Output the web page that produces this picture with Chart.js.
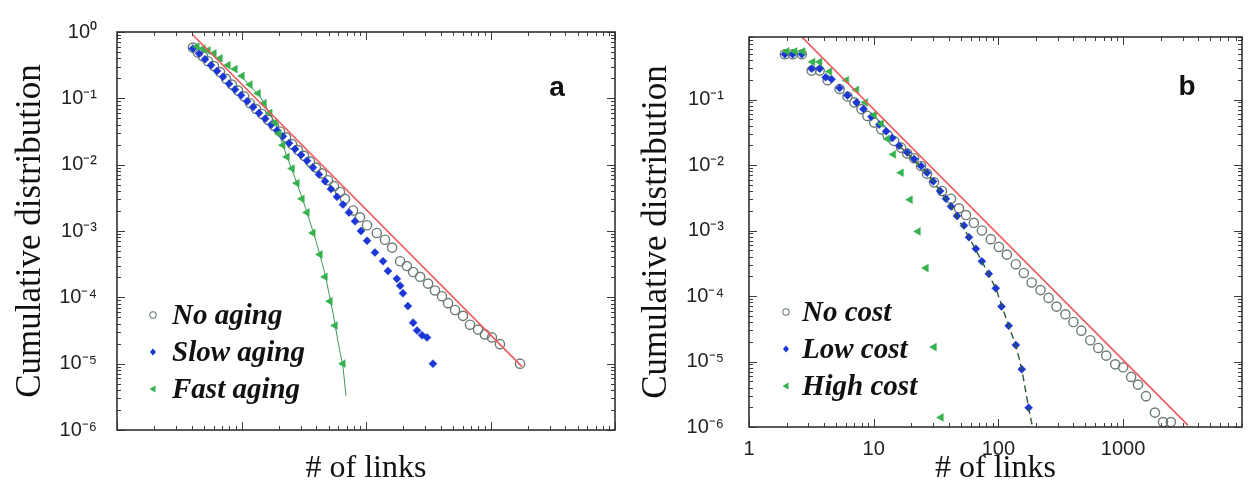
<!DOCTYPE html>
<html>
<head>
<meta charset="utf-8">
<script src="https://cdn.jsdelivr.net/npm/chart.js@4.4.1/dist/chart.umd.min.js"></script>
<style>
  html, body { margin: 0; padding: 0; background: #fff; }
  .panel { position: absolute; top: 0; width: 624px; height: 492px; }
</style>
</head>
<body>
<div class="panel" style="left:0"><canvas id="chartA" width="624" height="492"></canvas></div>
<div class="panel" style="left:624px"><canvas id="chartB" width="624" height="492"></canvas></div>
<script>
  // ---- panel a : aging ----
  const noAgingX = [4.07, 4.47, 4.91, 5.38, 6.01, 6.72, 7.51, 8.39, 9.37, 10.5, 11.7, 13.1, 14.6, 16.3, 18.2,
    20.4, 22.8, 25.5, 28.4, 31.8, 35.5, 39.6, 44.3, 49.5, 55.3, 61.8, 67.8, 78.7, 89.5, 102,
    122, 142, 162, 188, 213, 239, 272, 315, 358, 408, 456, 519, 601, 684, 794, 903, 1028, 1191, 1726];
  const noAgingY = [0.582, 0.491, 0.429, 0.362, 0.306, 0.249, 0.197, 0.161, 0.131, 0.107, 0.0844, 0.0689, 0.0582, 0.0475, 0.0387,
    0.0316, 0.0258, 0.0204, 0.0166, 0.0136, 0.0111, 0.00903, 0.00738, 0.00582, 0.00474, 0.00387, 0.00306, 0.00204, 0.00161, 0.00122,
    9.35e-4, 7.38e-4, 5.62e-4, 3.5e-4, 2.96e-4, 2.41e-4, 2.04e-4, 1.61e-4, 1.27e-4, 1.04e-4, 8.17e-5, 6.44e-5, 5.26e-5, 3.87e-5, 3.27e-5,
    2.76e-5, 2.49e-5, 1.97e-5, 1e-5];

  const slowAgingX = [4.07, 4.56, 5.09, 5.69, 6.36, 7.10, 7.94, 8.87, 9.91, 11.1, 12.4, 13.8, 15.5, 17.3, 19.3,
    21.5, 24.1, 26.9, 30.1, 33.6, 37.5, 41.9, 46.9, 52.3, 58.5, 65.3, 73.0, 81.6, 91.2, 102,
    118, 137, 150, 177, 188, 198, 217, 239, 257, 282, 309, 345];
  const slowAgingY = [0.562, 0.475, 0.388, 0.316, 0.258, 0.211, 0.166, 0.136, 0.111, 0.0903, 0.0738, 0.0602, 0.0491, 0.0401, 0.0327,
    0.0267, 0.0211, 0.0172, 0.0140, 0.0115, 0.00904, 0.00713, 0.00562, 0.00429, 0.00327, 0.00250, 0.00190, 0.00140, 0.001, 7.13e-4,
    4.75e-4, 3.5e-4, 2.5e-4, 1.9e-4, 1.5e-4, 1.15e-4, 7.38e-5, 4.15e-5, 3.16e-5, 2.67e-5, 2.49e-5, 1e-5];

  const fastAgingX = [4.39, 4.91, 5.38, 6.01, 6.72, 7.79, 8.87, 10.1, 11.7, 13.6, 15.2, 16.9, 18.6, 20.0, 21.5,
    23.2, 25.5, 27.9, 30.6, 33.6, 37.5, 42.7, 46.9, 51.4, 56.4, 65.3];
  const fastAgingY = [0.602, 0.562, 0.526, 0.475, 0.401, 0.316, 0.276, 0.218, 0.161, 0.119, 0.0844, 0.0602, 0.0429, 0.0296, 0.0197,
    0.0131, 0.00873, 0.00526, 0.00306, 0.0019, 9.35e-4, 4.44e-4, 2.04e-4, 8.73e-5, 3.75e-5, 1e-5];

  // fitted curves
  const fastFitX = [9.73, 14.1, 18.6, 23.2, 27.9, 33.6, 39.6, 46.9, 54.3, 60.7, 65.3, 69.1];
  const fastFitY = [0.225, 0.107, 0.0429, 0.0131, 0.00526, 0.0019, 7.13e-4, 2.25e-4, 5.82e-5, 1.78e-5, 9e-6, 3.27e-6];
  const powerFitAX = [4.07, 1791];
  const powerFitAY = [0.903, 9.04e-6];

  // ---- panel b : cost ----
  const noCostX = [1.94, 2.24, 2.65, 3.18, 3.69, 4.27, 5.33, 6.17, 7.01, 7.98, 8.91, 10.1, 11.5, 12.9, 14.6,
    16.6, 18.6, 21.1, 24.0, 26.8, 30.5, 35.3, 41.7, 48.3, 55.0, 63.6, 73.8, 86.9, 101, 117,
    138, 160, 185, 218, 253, 293, 345, 400, 463, 547, 633, 733, 865, 1002, 1161, 1319, 1528, 1803, 2091, 2421];
  const noCostY = [0.491, 0.491, 0.491, 0.276, 0.276, 0.197, 0.145, 0.111, 0.0903, 0.0713, 0.0562, 0.0444, 0.0350, 0.0286, 0.0233,
    0.0184, 0.0150, 0.0127, 0.00966, 0.00738, 0.00543, 0.00401, 0.00306, 0.00218, 0.00172, 0.00131, 0.001, 7.38e-4, 5.62e-4, 4.29e-4,
    3.06e-4, 2.25e-4, 1.61e-4, 1.23e-4, 9.35e-5, 6.89e-5, 5.26e-5, 4.01e-5, 2.96e-5, 2.11e-5, 1.61e-5, 1.23e-5, 9.04e-6, 8.16e-6, 5.82e-6,
    4.44e-6, 2.96e-6, 1.66e-6, 1.19e-6, 1.19e-6];

  const lowCostX = [1.94, 2.24, 2.65, 3.18, 3.69, 4.12, 4.59, 5.33, 6.17, 7.28, 8.28, 9.59, 11.1, 12.6, 14.1,
    16.0, 18.6, 21.1, 24.0, 26.8, 30.0, 34.1, 38.0, 41.7, 46.6, 53.0, 58.1, 66.0, 73.8, 83.8, 95.4, 106, 121, 138, 154, 175];
  const lowCostY = [0.491, 0.491, 0.491, 0.296, 0.296, 0.218, 0.204, 0.150, 0.115, 0.0903, 0.0713, 0.0543, 0.0415, 0.0327, 0.0258,
    0.0197, 0.0155, 0.0123, 0.00966, 0.00763, 0.00562, 0.00401, 0.00306, 0.00233, 0.00166, 0.00119, 7.89e-4, 5.26e-4, 3.38e-4, 2.18e-4,
    1.31e-4, 6.89e-5, 3.50e-5, 1.78e-5, 7.62e-6, 1.97e-6];

  const highCostX = [2.01, 2.33, 2.70, 3.24, 3.69, 4.43, 6.05, 7.28, 8.59, 10.1, 11.5, 12.9, 14.4, 16.6, 19.6, 22.7, 26.3, 30.5, 34.7];
  const highCostY = [0.543, 0.543, 0.543, 0.375, 0.375, 0.267, 0.197, 0.140, 0.0903, 0.0582, 0.0429, 0.0250, 0.0145, 0.00763, 0.00296,
    9.67e-4, 2.67e-4, 1.66e-5, 1.40e-6];

  const lowFitX = [16.0, 26.8, 41.7, 58.1, 73.8, 95.4, 121, 138, 154, 175, 186];
  const lowFitY = [0.0197, 0.00763, 0.00233, 7.89e-4, 3.38e-4, 1.31e-4, 3.5e-5, 1.78e-5, 7.62e-6, 1.97e-6, 1.1e-6];
  const powerFitBX = [2.65, 3311];
  const powerFitBY = [0.903, 1.07e-6];

  // axis ticks
  const yTickExpA = [0, -1, -2, -3, -4, -5, -6];
  const yTickExpB = [-1, -2, -3, -4, -5, -6];
  const xTickLabelsB = [1, 10, 100, 1000];

  const SUP = { '-': '\u207B', '0': '\u2070', '1': '\u00B9', '2': '\u00B2', '3': '\u00B3', '4': '\u2074', '5': '\u2075', '6': '\u2076' };
  function powerLabel(v) {
    const e = Math.round(Math.log10(v));
    return '10' + String(e).split('').map(c => SUP[c]).join('');
  }

  function pts(xs, ys) {
    return xs.map((x, i) => ({ x: x, y: ys[i] }));
  }

  const RED = '#f0585a';
  const GRAY = '#6b7b73';
  const BLUE = '#1b36d4';
  const GREEN = '#35b14e';

  function markerSet(label, xs, ys, kind, order) {
    const base = { label: label, data: pts(xs, ys), showLine: false, order: order };
    if (kind === 'circle') {
      return Object.assign(base, { pointStyle: 'circle', pointRadius: 4.6, pointBorderWidth: 1.4,
        pointBorderColor: GRAY, pointBackgroundColor: 'rgba(0,0,0,0)', borderColor: GRAY });
    }
    if (kind === 'diamond') {
      return Object.assign(base, { pointStyle: 'rectRot', pointRadius: 4, pointBorderWidth: 0.5,
        pointBorderColor: BLUE, pointBackgroundColor: BLUE, borderColor: BLUE });
    }
    return Object.assign(base, { pointStyle: 'triangle', pointRotation: -90, pointRadius: 4.5, pointBorderWidth: 0.5,
      pointBorderColor: GREEN, pointBackgroundColor: GREEN, borderColor: GREEN });
  }

  function lineSet(xs, ys, color, width, dash, order) {
    return { label: '', data: pts(xs, ys), showLine: true, borderColor: color, borderWidth: width,
      borderDash: dash, pointRadius: 0, order: order, tension: 0 };
  }

  // inward ticks on all four sides plus the box
  function logValues(min, max) {
    const out = [];
    for (let k = Math.floor(Math.log10(min)); k <= Math.ceil(Math.log10(max)); k++) {
      for (let m = 1; m <= 9; m++) {
        const v = m * Math.pow(10, k);
        if (v >= min * 0.999 && v <= max * 1.001) out.push({ v: v, major: m === 1 });
      }
    }
    return out;
  }

  const frameTicks = {
    id: 'frameTicks',
    afterDatasetsDraw(chart) {
      const { ctx, chartArea: a, scales } = chart;
      ctx.save();
      ctx.strokeStyle = '#3c3c3c';
      ctx.lineWidth = 1;
      logValues(scales.x.min, scales.x.max).forEach(t => {
        const px = Math.round(scales.x.getPixelForValue(t.v)) + 0.5;
        const len = t.major ? 8 : 4;
        ctx.beginPath();
        ctx.moveTo(px, a.bottom); ctx.lineTo(px, a.bottom - len);
        ctx.moveTo(px, a.top); ctx.lineTo(px, a.top + len);
        ctx.stroke();
      });
      logValues(scales.y.min, scales.y.max).forEach(t => {
        const py = Math.round(scales.y.getPixelForValue(t.v)) + 0.5;
        const len = t.major ? 8 : 4;
        ctx.beginPath();
        ctx.moveTo(a.left, py); ctx.lineTo(a.left + len, py);
        ctx.moveTo(a.right, py); ctx.lineTo(a.right - len, py);
        ctx.stroke();
      });
      ctx.lineWidth = 1.6;
      ctx.strokeStyle = '#333';
      ctx.strokeRect(a.left, a.top, a.right - a.left, a.bottom - a.top);
      ctx.restore();
    }
  };

  // legend inside the plot and the panel letter
  const insideLegend = {
    id: 'insideLegend',
    afterDraw(chart, args, opts) {
      const { ctx, chartArea: a } = chart;
      ctx.save();
      let row = 0;
      chart.data.datasets.forEach(ds => {
        if (!ds.label) return;
        const y = a.bottom - opts.firstRow + row * opts.rowGap;
        const mx = a.left + opts.markerX;
        ctx.beginPath();
        if (ds.pointStyle === 'circle') {
          ctx.arc(mx, y, 3.2, 0, Math.PI * 2);
          ctx.strokeStyle = GRAY; ctx.lineWidth = 1.1; ctx.stroke();
        } else if (ds.pointStyle === 'rectRot') {
          ctx.moveTo(mx, y - 3.5); ctx.lineTo(mx + 3, y); ctx.lineTo(mx, y + 3.5); ctx.lineTo(mx - 3, y);
          ctx.closePath(); ctx.fillStyle = BLUE; ctx.fill();
        } else {
          ctx.moveTo(mx - 3.5, y); ctx.lineTo(mx + 2.5, y - 3.5); ctx.lineTo(mx + 2.5, y + 3.5);
          ctx.closePath(); ctx.fillStyle = GREEN; ctx.fill();
        }
        ctx.fillStyle = '#111';
        ctx.font = 'italic bold 29px "Liberation Serif"';
        ctx.textBaseline = 'alphabetic';
        ctx.textAlign = 'left';
        ctx.fillText(ds.label, a.left + opts.textX, y + 9);
        row++;
      });
      ctx.font = 'bold 28px "Liberation Sans"';
      ctx.textAlign = 'center';
      ctx.textBaseline = 'middle';
      ctx.fillStyle = '#111';
      ctx.fillText(opts.letter, a.right - opts.letterDx, a.top + opts.letterDy);
      ctx.restore();
    }
  };

  function makeChart(id, cfg) {
    return new Chart(document.getElementById(id), {
      type: 'scatter',
      data: { datasets: cfg.datasets },
      plugins: [frameTicks, insideLegend],
      options: {
        responsive: false,
        animation: false,
        events: [],
        layout: { padding: { top: 22, right: cfg.padRight, left: 0, bottom: 0 } },
        plugins: {
          legend: { display: false },
          tooltip: { enabled: false },
          insideLegend: cfg.legend
        },
        scales: {
          x: {
            type: 'logarithmic',
            min: 1,
            max: cfg.xMax,
            grid: { display: false, drawTicks: false },
            border: { display: false },
            afterFit: s => { s.height = cfg.xAxisHeight; },
            afterBuildTicks: s => { s.ticks = cfg.xTicks.map(v => ({ value: v })); },
            ticks: {
              display: cfg.xTicks.length > 0,
              autoSkip: false,
              maxRotation: 0,
              padding: 10,
              color: '#222',
              font: { family: 'Liberation Sans', size: 20 },
              callback: v => String(v)
            },
            title: {
              display: true,
              text: '# of links',
              color: '#111',
              font: { family: 'Liberation Serif', size: 32 },
              padding: { top: 0, bottom: 4 }
            }
          },
          y: {
            type: 'logarithmic',
            min: 1e-6,
            max: cfg.yMax,
            grid: { display: false, drawTicks: false },
            border: { display: false },
            afterFit: s => { s.width = cfg.yAxisWidth; },
            afterBuildTicks: s => { s.ticks = cfg.yTickExp.map(e => ({ value: Math.pow(10, e) })); },
            ticks: {
              autoSkip: false,
              padding: cfg.yTickPad,
              color: '#222',
              font: { family: 'Liberation Sans', size: 20 },
              callback: v => powerLabel(v)
            },
            title: {
              display: true,
              text: 'Cumulative distribution',
              color: '#111',
              font: { family: 'Liberation Serif', size: 35 },
              padding: { top: cfg.yTitlePad, bottom: 0 }
            }
          }
        }
      }
    });
  }

  makeChart('chartA', {
    xMax: 10000,
    yMax: 1,
    padRight: 9,
    xAxisHeight: 62,
    yAxisWidth: 117,
    yTickPad: 20,
    yTitlePad: 10,
    xTicks: [],
    yTickExp: yTickExpA,
    legend: { markerX: 36, textX: 55, firstRow: 115, rowGap: 37, letter: 'a', letterDx: 58, letterDy: 56 },
    datasets: [
      markerSet('No aging', noAgingX, noAgingY, 'circle', 4),
      markerSet('Slow aging', slowAgingX, slowAgingY, 'diamond', 3),
      markerSet('Fast aging', fastAgingX, fastAgingY, 'triangle', 2),
      lineSet(fastFitX, fastFitY, '#3c9a5a', 1, [], 5),
      lineSet(powerFitAX, powerFitAY, RED, 1.6, [], 0)
    ]
  });

  makeChart('chartB', {
    xMax: 9000,
    yMax: 0.9,
    padRight: 3,
    xAxisHeight: 65,
    yAxisWidth: 125,
    yTickPad: 25,
    yTitlePad: 12,
    xTicks: xTickLabelsB,
    yTickExp: yTickExpB,
    legend: { markerX: 37, textX: 53, firstRow: 115, rowGap: 37, letter: 'b', letterDx: 55, letterDy: 50 },
    datasets: [
      markerSet('No cost', noCostX, noCostY, 'circle', 4),
      markerSet('Low cost', lowCostX, lowCostY, 'diamond', 3),
      markerSet('High cost', highCostX, highCostY, 'triangle', 2),
      lineSet(lowFitX, lowFitY, '#2c5a3a', 1.4, [7, 4], 1),
      lineSet(powerFitBX, powerFitBY, RED, 1.6, [], 0)
    ]
  });
</script>
</body>
</html>
